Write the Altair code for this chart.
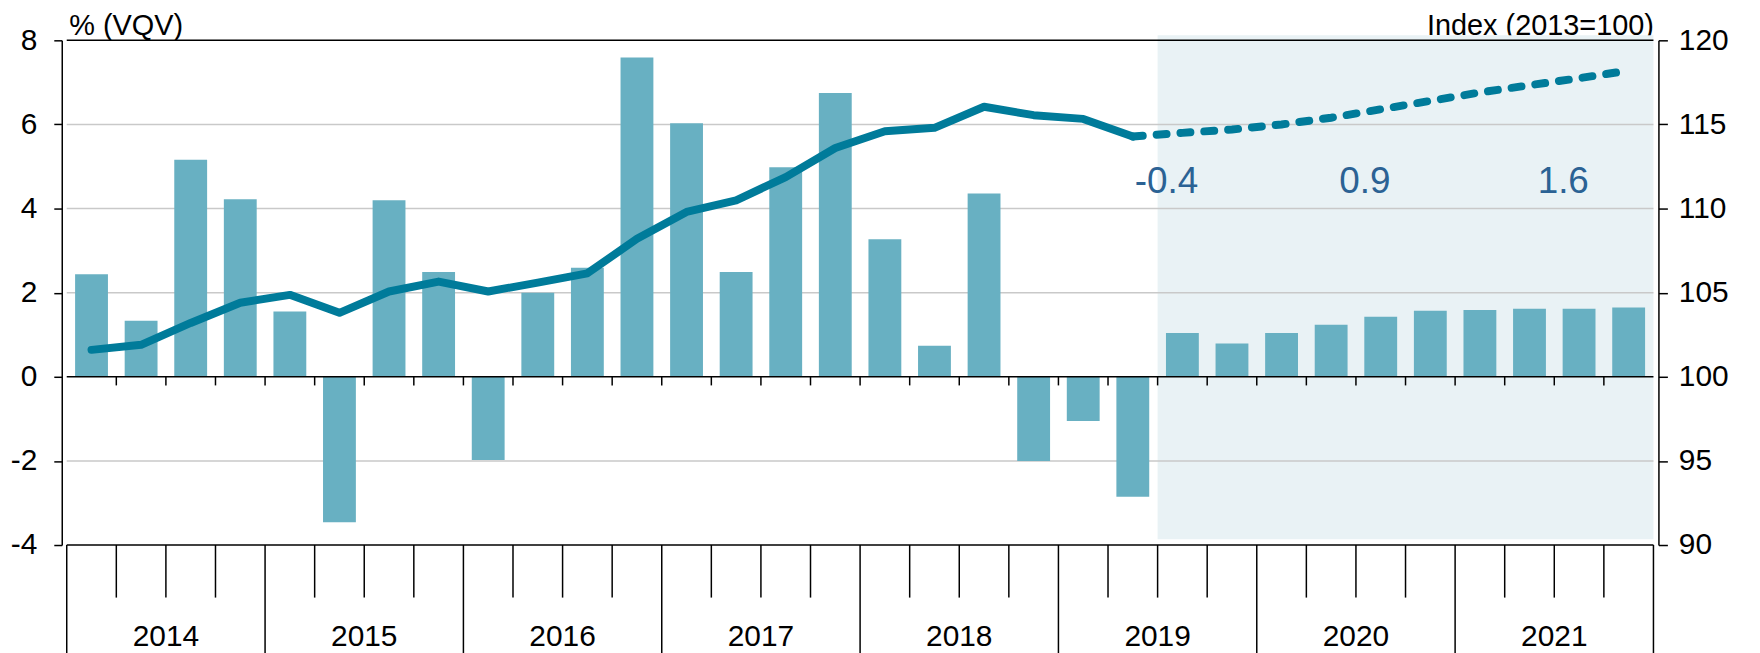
import altair as alt
import pandas as pd

# ---------------- data ----------------
years = [2014, 2015, 2016, 2017, 2018, 2019, 2020, 2021]
quarters = [f"{y}Q{q}" for y in years for q in range(1, 5)]
growth = [2.44, 1.33, 5.16, 4.22, 1.55, -3.46, 4.20, 2.49,
          -1.98, 2.00, 2.59, 7.59, 6.03, 2.49, 4.98, 6.75,
          3.27, 0.74, 4.36, -2.00, -1.05, -2.85, 1.04, 0.79,
          1.04, 1.24, 1.43, 1.57, 1.59, 1.62, 1.62, 1.65]
index_actual = [101.6, 101.9, 103.2, 104.4, 104.87, 103.8, 105.07, 105.66,
                105.07, 105.6, 106.15, 108.2, 109.8, 110.49, 111.87, 113.6,
                114.6, 114.8, 116.05, 115.55, 115.33, 114.28]
index_forecast = [114.28, 114.5, 114.7, 115.0, 115.4, 115.9, 116.4, 116.9,
                  117.33, 117.75, 118.2]
annual_years = [2019, 2020, 2021]
annual_growth = ["-0.4", "0.9", "1.6"]
forecast_start = "2019Q3"
left_ticks = [-4, -2, 0, 2, 4, 6, 8]
right_ticks = [90, 95, 100, 105, 110, 115, 120]
grid_values = [-2, 2, 4, 6]

# ---------------- styles ----------------
FONT = "Liberation Sans"
BAR = "#68b0c2"
LINE = "#007b9a"
SHADE = "#e9f2f5"
LABEL = "#2b6294"
GRID = "#c9c9c9"
LEFT_DOMAIN = [-4, 8]
RIGHT_DOMAIN = [90, 120]
ZERO_TICK_END = -0.205
QTICK_END = -5.25
YEAR_LINE_END = -6.8
YEAR_LABEL_Y = -6.40
ANNUAL_LABEL_Y = 4.36
SHADE_TOP = 8.12
SHADE_BOTTOM = -3.86

nq = len(quarters)
xscale = alt.Scale(domain=[0, nq], nice=False, zero=False)


def lscale():
    return alt.Scale(domain=LEFT_DOMAIN, nice=False, zero=False)


def rscale():
    return alt.Scale(domain=RIGHT_DOMAIN, nice=False, zero=False)


def X(f):
    return alt.X(f, type="quantitative", scale=xscale, axis=None)


def YL(f, axis=None):
    return alt.Y(f, type="quantitative", scale=lscale(), axis=axis)


# ---------------- tables ----------------
bars_df = pd.DataFrame({"q": quarters, "pos": [i + 0.5 for i in range(nq)], "g": growth})
act_df = pd.DataFrame({"pos": [i + 0.5 for i in range(len(index_actual))], "idx": index_actual})
f0 = len(index_actual) - 1
fc_df = pd.DataFrame({"pos": [f0 + i + 0.5 for i in range(len(index_forecast))], "idx": index_forecast})

fs = quarters.index(forecast_start)
shade_df = pd.DataFrame({"x": [fs], "x2": [nq], "y": [SHADE_TOP], "y2": [SHADE_BOTTOM]})
grid_df = pd.DataFrame({"y": grid_values, "x": [0] * len(grid_values), "x2": [nq] * len(grid_values)})
zero_ticks_df = pd.DataFrame({"x": list(range(1, nq)), "y": [0] * (nq - 1), "y2": [ZERO_TICK_END] * (nq - 1)})
qb = [b for b in range(1, nq) if b % 4 != 0]
qtick_df = pd.DataFrame({"x": qb, "y": [LEFT_DOMAIN[0]] * len(qb), "y2": [QTICK_END] * len(qb)})
yb = list(range(0, nq + 1, 4))
ysep_df = pd.DataFrame({"x": yb, "y": [LEFT_DOMAIN[0]] * len(yb), "y2": [YEAR_LINE_END] * len(yb)})
hlines_df = pd.DataFrame({"y": [LEFT_DOMAIN[1], 0, LEFT_DOMAIN[0]], "x": [0] * 3, "x2": [nq] * 3})
years_df = pd.DataFrame({"label": [str(y) for y in years],
                         "x": [4 * i + 2 for i in range(len(years))],
                         "y": [YEAR_LABEL_Y] * len(years)})
annual_df = pd.DataFrame({"label": annual_growth,
                          "x": [4 * years.index(y) + 2 for y in annual_years],
                          "y": [ANNUAL_LABEL_Y] * len(annual_years)})

# ---------------- axes ----------------
left_axis = alt.Axis(orient="left", values=left_ticks, grid=False, domain=True,
                     domainColor="black", domainWidth=1.5, ticks=True, tickColor="black",
                     tickWidth=1.5, tickSize=8, labelFont=FONT, labelFontSize=30,
                     labelColor="black", labelPadding=17, labelOverlap=False,
                     labelExpr="'' + datum.value",
                     title="% (VQV)", titleAngle=0, titleAlign="left",
                     titleBaseline="alphabetic", titleX=7, titleY=-6, titleFont=FONT,
                     titleFontSize=29, titleFontWeight="normal", titleColor="black")

right_axis = alt.Axis(orient="right", values=right_ticks, grid=False, domain=True,
                      domainColor="black", domainWidth=1.5, ticks=True, tickColor="black",
                      tickWidth=1.5, tickSize=9, labelFont=FONT, labelFontSize=30,
                      labelColor="black", labelPadding=11, labelOverlap=False,
                      title="Index (2013=100)", titleAngle=0, titleAlign="right",
                      titleBaseline="alphabetic", titleX=-5, titleY=-6, titleFont=FONT,
                      titleFontSize=29, titleFontWeight="normal", titleColor="black")

# ---------------- layers ----------------
shade = alt.Chart(shade_df).mark_rect(color=SHADE).encode(
    x=X("x"), x2="x2", y=YL("y"), y2="y2")
grid = alt.Chart(grid_df).mark_rule(color=GRID, strokeWidth=1.5).encode(
    x=X("x"), x2="x2", y=YL("y"))
zero_ticks = alt.Chart(zero_ticks_df).mark_rule(color="black", strokeWidth=1.5).encode(
    x=X("x"), y=YL("y"), y2="y2")
bars = alt.Chart(bars_df).mark_bar(color=BAR, size=33).encode(
    x=X("pos"), y=YL("g", axis=left_axis))
hlines = alt.Chart(hlines_df).mark_rule(color="black", strokeWidth=1.5).encode(
    x=X("x"), x2="x2", y=YL("y"))
qticks = alt.Chart(qtick_df).mark_rule(color="black", strokeWidth=1.5).encode(
    x=X("x"), y=YL("y"), y2="y2")
ysep = alt.Chart(ysep_df).mark_rule(color="black", strokeWidth=1.5).encode(
    x=X("x"), y=YL("y"), y2="y2")
year_text = alt.Chart(years_df).mark_text(font=FONT, fontSize=30, color="black",
                                          align="center", baseline="alphabetic").encode(
    x=X("x"), y=YL("y"), text="label:N")
annual_text = alt.Chart(annual_df).mark_text(font=FONT, fontSize=37, color=LABEL,
                                             align="center", baseline="alphabetic",
                                             dx=9).encode(
    x=X("x"), y=YL("y"), text="label:N")
solid = alt.Chart(act_df).mark_line(color=LINE, strokeWidth=8, strokeCap="round",
                                    strokeJoin="round").encode(
    x=X("pos"), y=alt.Y("idx", type="quantitative", scale=rscale(), axis=right_axis))
dashed = alt.Chart(fc_df).mark_line(color=LINE, strokeWidth=8, strokeCap="round",
                                    strokeDash=[10, 14]).encode(
    x=X("pos"), y=alt.Y("idx", type="quantitative", scale=rscale(), axis=None))

chart = alt.layer(
    shade, grid, zero_ticks, bars, hlines, qticks, ysep, year_text, annual_text,
    solid, dashed,
).resolve_scale(y="independent").properties(
    width=1604, height=507,
    autosize=alt.AutoSizeParams(type="none"),
    padding={"left": 54, "top": 31, "right": 94, "bottom": 107},
).configure_view(stroke=None)

chart.save("out.html", embed_options={"renderer": "svg", "actions": False})
